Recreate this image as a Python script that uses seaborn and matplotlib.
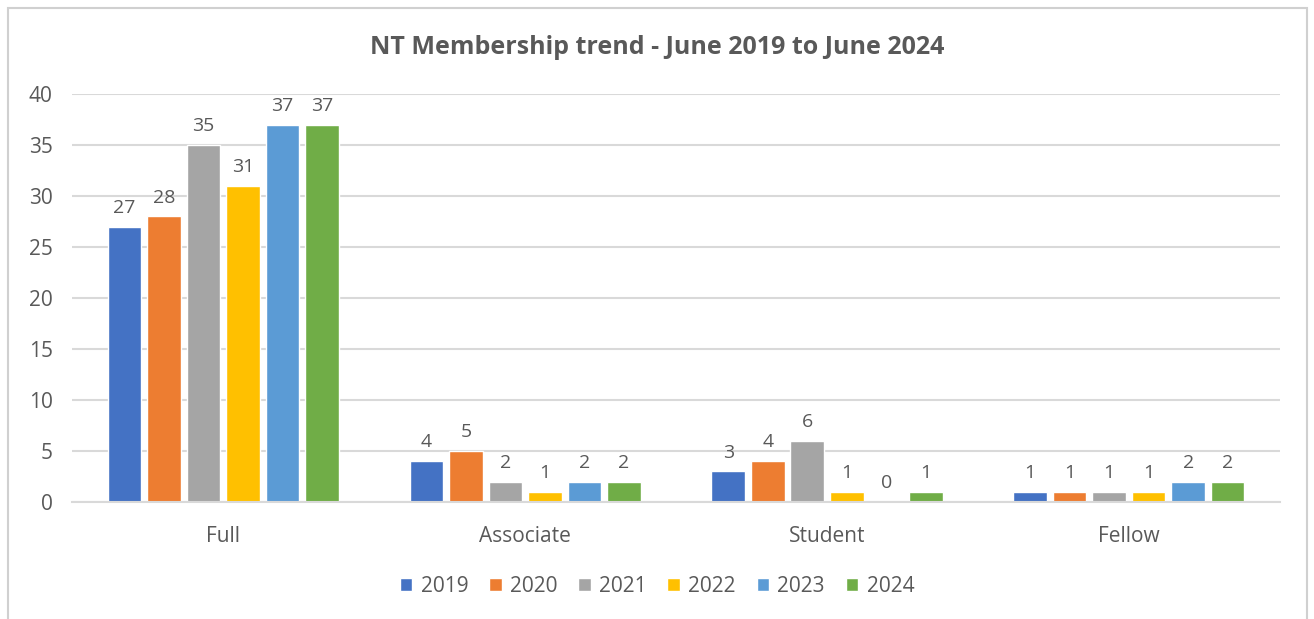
import matplotlib.pyplot as plt
import matplotlib.patches as mpatches
import pandas as pd
import seaborn as sns

categories = ["Full", "Associate", "Student", "Fellow"]
years = ["2019", "2020", "2021", "2022", "2023", "2024"]
members_2019 = [27, 4, 3, 1]
members_2020 = [28, 5, 4, 1]
members_2021 = [35, 2, 6, 1]
members_2022 = [31, 1, 1, 1]
members_2023 = [37, 2, 0, 2]
members_2024 = [37, 2, 1, 2]
colors = ["#4472C4", "#ED7D31", "#A5A5A5", "#FFC000", "#5B9BD5", "#70AD47"]

series = [members_2019, members_2020, members_2021, members_2022, members_2023, members_2024]
rows = []
for year, values in zip(years, series):
    for cat, v in zip(categories, values):
        rows.append({"Category": cat, "Year": year, "Members": v})
df = pd.DataFrame(rows)

sns.set_theme(style="white")
plt.rcParams["font.family"] = ["Open Sans", "DejaVu Sans"]
text_color = "#595959"

fig = plt.figure(figsize=(13.14, 6.19), dpi=100)
ax = fig.add_axes([0.055, 0.189, 0.919, 0.659])

sns.barplot(
    data=df, x="Category", y="Members", hue="Year",
    palette=colors, width=0.785, gap=0.15, ax=ax,
    saturation=1, legend=True,
)

for container in ax.containers:
    ax.bar_label(container, fmt="%d", padding=7, fontsize=14, color=text_color)

ax.set_ylim(0, 40)
ax.set_yticks(range(0, 41, 5))
ax.yaxis.grid(True, color="#D9D9D9", linewidth=1.5)
ax.set_axisbelow(True)
for side in ["top", "right", "left"]:
    ax.spines[side].set_visible(False)
ax.spines["bottom"].set_color("#D9D9D9")
ax.spines["bottom"].set_linewidth(1.5)
ax.tick_params(axis="both", length=0, labelsize=15, labelcolor=text_color)
ax.tick_params(axis="x", pad=17)
ax.tick_params(axis="y", pad=14)
ax.set_xlabel("")
ax.set_ylabel("")

handles, labels = ax.get_legend_handles_labels()
ax.legend_.remove()
fig.legend(
    handles, labels, loc="center", bbox_to_anchor=(0.5, 0.053), ncol=6,
    frameon=False, fontsize=15, labelcolor=text_color,
    handlelength=0.6, handleheight=0.6, handletextpad=0.4, columnspacing=1.0,
)

fig.text(0.5, 0.924, "NT Membership trend - June 2019 to June 2024",
         ha="center", va="center", fontsize=18, fontweight="bold", color=text_color)

fig.patches.append(mpatches.Rectangle(
    (0.006, -0.01), 0.989, 0.997, transform=fig.transFigure,
    fill=False, edgecolor="#D0D0D0", linewidth=1.5,
))

fig.savefig("out.png", dpi=100)
